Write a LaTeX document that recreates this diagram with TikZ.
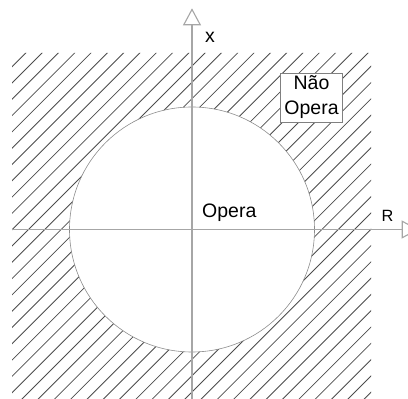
\documentclass[tikz,border=0pt]{standalone}
\usepackage{fontspec}
\setmainfont{Liberation Sans}
\usetikzlibrary{arrows.meta}
\begin{document}
\begin{tikzpicture}[x=1pt,y=1pt,
    axis/.style={draw=black!35,line width=1.1pt,-{Triangle[open,length=17pt,width=18pt]}},
    hatch/.style={black!70,line width=0.8pt},
    txt/.style={font=\fontsize{19.5}{25}\selectfont,inner sep=0pt}]
    \useasboundingbox (0,0) rectangle (408,399);
    % Região hachurada (fora do círculo)
    \begin{scope}[even odd rule]
        \clip (12,0) rectangle (371,346) (192,169.5) circle (122.5);
        \foreach \k in {-2,...,44}
            \draw[hatch] ({-320.3+16.3*\k-40},-40) -- ({-320.3+16.3*\k+440},440);
    \end{scope}
    % Circunferência
    \draw[black!45,line width=0.6pt] (192,169.5) circle (122.5);
    % Eixos
    \coordinate (rini) at (12,169.5);
    \coordinate (rfim) at (418.7,169.5);
    \coordinate (xini) at (192,0);
    \coordinate (xfim) at (192,390.7);
    \draw[axis] (rini) -- (rfim);
    \draw[axis] (xini) -- (xfim);
    % Rótulos
    \node[txt,anchor=base west] (xlab) at (205,356) {x};
    \node[font=\fontsize{16.3}{20}\selectfont,inner sep=0pt,anchor=base west] (rlab) at (381.5,177.3) {R};
    \node[txt,anchor=base west] (opera) at (202,181.3) {Opera};
    \node[txt,draw=black!50,fill=white,line width=0.6pt,align=center,inner xsep=4pt,inner ysep=3pt] (naoopera) at (311.5,301.5) {Não\\Opera};
\end{tikzpicture}
\end{document}
